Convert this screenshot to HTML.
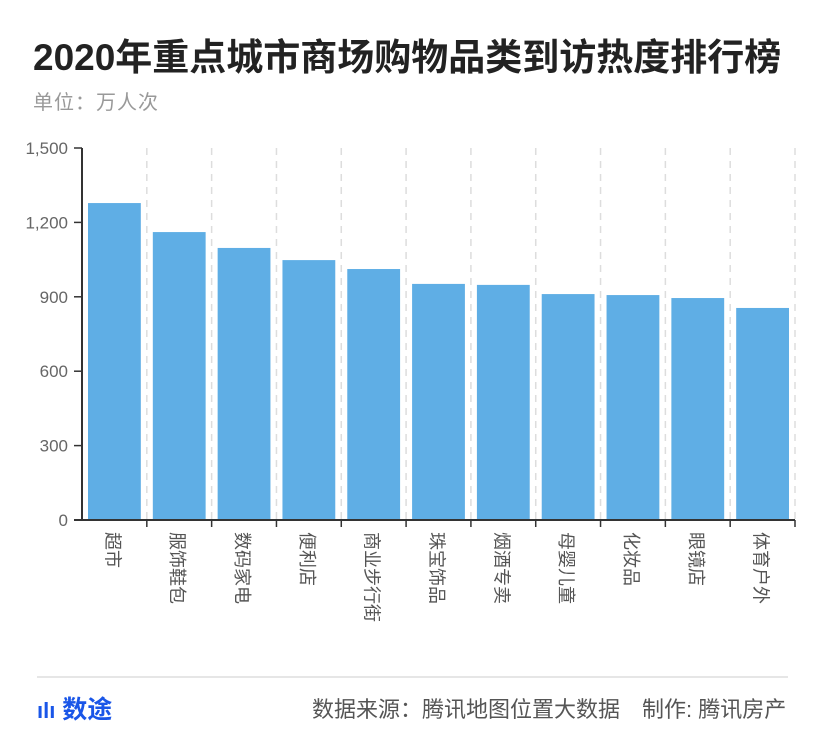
<!DOCTYPE html>
<html><head><meta charset="utf-8"><style>
body{margin:0;width:830px;height:738px;background:#fff;font-family:"Liberation Sans","Noto Sans CJK SC",sans-serif;overflow:hidden;position:relative}
.t{position:absolute;left:33px;top:27px;font-size:37px;font-weight:bold;color:#222;letter-spacing:0}
.u{position:absolute;left:33px;top:86px;font-size:20px;color:#999;letter-spacing:1px}
.f{position:absolute;top:692px;font-size:22px;color:#555}
</style></head><body>
<div class="t">2020年重点城市商场购物品类到访热度排行榜</div>
<div class="u">单位：万人次</div>
<svg id="c" width="830" height="738" style="position:absolute;left:0;top:0"></svg>
<div style="position:absolute;left:37px;top:676px;width:751px;height:2px;background:#e6e6e6"></div>
<div class="f" style="left:37px;color:#1a56e8;font-weight:bold;font-size:25px;top:690px"><span style="font-size:22px">ılı</span> 数途</div>
<div class="f" style="left:312px">数据来源：腾讯地图位置大数据　制作: 腾讯房产</div>
<script>
const categories=["超市","服饰鞋包","数码家电","便利店","商业步行街","珠宝饰品","烟酒专卖","母婴儿童","化妆品","眼镜店","体育户外"];
const values=[1278,1161,1097,1048,1012,952,948,911,907,895,855];
const ticks=[0,300,600,900,1200,1500];
const tickLabels=["0","300","600","900","1,200","1,500"];
const NS="http://www.w3.org/2000/svg";
const svg=document.getElementById('c');
const x0=82,x1=795,y0=520,y1=148,maxV=1500;
const bw=(x1-x0)/categories.length;
const y=v=>y0-(v/maxV)*(y0-y1);
const xb=i=>x0+i*bw;
function mk(t,a){const e=document.createElementNS(NS,t);for(const k in a)e.setAttribute(k,a[k]);svg.appendChild(e);return e;}
for(let i=1;i<=categories.length;i++){
 const g=mk('line',{x1:xb(i),x2:xb(i),y1:y1,y2:y0,stroke:'#ddd','stroke-width':1.5,'stroke-dasharray':'7,6'});
 
 
}
ticks.forEach((v,i)=>{
 const l=mk('line',{x1:x0-8,x2:x0,y1:y(v),y2:y(v),stroke:'#333','stroke-width':1.5});
 
 
 const t=mk('text',{x:x0-14,y:y(v)+6,'text-anchor':'end','font-size':17,fill:'#666'});
 t.textContent=tickLabels[i];
 
 
});
values.forEach((v,i)=>{
 const r=mk('rect',{x:xb(i)+6,y:y(v),width:bw-12,height:y0-y(v),fill:'#5faee5'});
 
 
 const cx=xb(i)+bw/2-1;
 const t=mk('text',{x:0,y:0,'font-size':18,fill:'#555',transform:'translate('+(cx-7)+',532) rotate(90)'});
 t.textContent=categories[i];
 
 
 const k=mk('line',{x1:xb(i+1),x2:xb(i+1),y1:y0,y2:y0+7,stroke:'#333','stroke-width':1.5});
 
 
});
const ya=mk('line',{x1:x0,x2:x0,y1:y1,y2:y0+1,stroke:'#333','stroke-width':2});


const xa=mk('line',{x1:x0-8,x2:x1,y1:y0,y2:y0,stroke:'#333','stroke-width':2});


</script>
</body></html>
